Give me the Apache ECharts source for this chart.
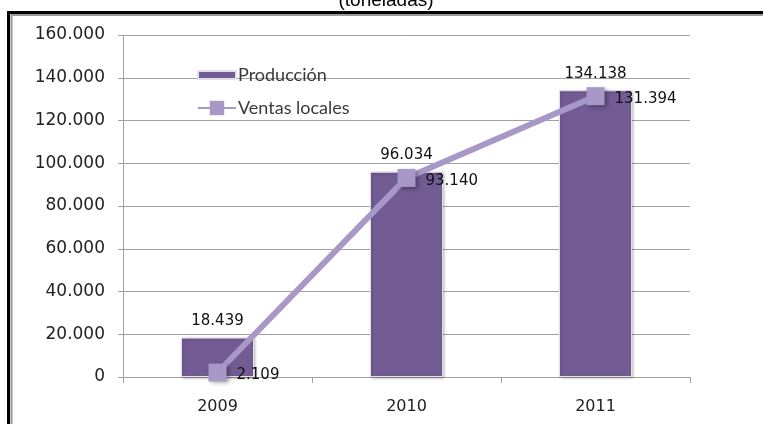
<!DOCTYPE html>
<html>
<head>
<meta charset="utf-8">
<script src="https://cdn.jsdelivr.net/npm/echarts@6/dist/echarts.min.js"></script>
<style>html,body{margin:0;padding:0;background:#fff;}#c{width:763px;height:424px;}</style>
</head>
<body>
<div id="c"></div>
<script>
const categories = ['2009', '2010', '2011'];
const produccion = [18439, 96034, 134138];
const ventasLocales = [2109, 93140, 131394];
const yTicks = { min: 0, max: 160000, interval: 20000 };

function fmt(v) {
  return String(Math.round(v)).replace(/\B(?=(\d{3})+(?!\d))/g, '.');
}

const chart = echarts.init(document.getElementById('c'), null, { renderer: 'canvas' });
const axisGray = '#a0a0a0';
chart.setOption({
  animation: false,
  backgroundColor: '#ffffff',
  grid: { left: 123, right: 73, top: 35, bottom: 47 },
  graphic: [
    { type: 'text', style: { text: '(toneladas)', x: 386, y: 10, textAlign: 'center', textVerticalAlign: 'bottom', font: '19px "Liberation Sans", Arial, sans-serif', fill: '#000' }, z: 10 },
    { type: 'polyline', shape: { points: [[8.5, 430], [8.5, 12.5], [770, 12.5]] }, style: { stroke: '#000', lineWidth: 3, fill: null }, z: 10 },
    { type: 'polyline', shape: { points: [[11.5, 430], [11.5, 15], [770, 15]] }, style: { stroke: '#9a9a9a', lineWidth: 2, fill: null }, z: 10 }
  ],
  legend: [
    {
      data: ['Producción'], orient: 'vertical', left: 192, top: 61,
      itemWidth: 38, itemHeight: 8, icon: 'rect',
      textStyle: { fontFamily: 'Lato, "Open Sans", sans-serif', fontSize: 18, color: '#3a3a3a', padding: [0, 0, 0, -3] }
    },
    {
      data: ['Ventas locales'], orient: 'vertical', left: 192, top: 94,
      itemWidth: 38, itemHeight: 18,
      textStyle: { fontFamily: 'Lato, "Open Sans", sans-serif', fontSize: 18, color: '#3a3a3a', padding: [0, 0, 0, -3] }
    }
  ],
  xAxis: {
    type: 'category', data: categories,
    axisLine: { show: true, lineStyle: { color: axisGray, width: 1 } },
    axisTick: { show: true, length: 6, lineStyle: { color: axisGray } },
    axisLabel: { fontFamily: '"DejaVu Sans", Verdana, sans-serif', fontSize: 16, color: '#222', margin: 22 },
    splitLine: { show: false }
  },
  yAxis: {
    type: 'value', min: yTicks.min, max: yTicks.max, interval: yTicks.interval,
    axisLine: { show: true, lineStyle: { color: axisGray, width: 1 } },
    axisTick: { show: true, length: 5, lineStyle: { color: axisGray } },
    axisLabel: { formatter: fmt, fontFamily: '"DejaVu Sans", Verdana, sans-serif', fontSize: 17, color: '#222', margin: 18 },
    splitLine: { show: true, lineStyle: { color: axisGray, width: 1 } }
  },
  series: [
    {
      name: 'Producción', type: 'bar', data: produccion, barWidth: 73,
      itemStyle: { color: '#735b94', borderColor: '#e4e0ea', borderWidth: 1, shadowColor: 'rgba(0,0,0,0.25)', shadowBlur: 3, shadowOffsetX: 1, shadowOffsetY: 1 },
      label: { show: true, position: 'top', distance: 9, formatter: p => fmt(p.value), fontFamily: '"DejaVu Sans", sans-serif', fontSize: 15, color: '#111' },
      z: 2
    },
    {
      name: 'Ventas locales', type: 'line', data: ventasLocales,
      symbol: 'rect', symbolSize: 18,
      lineStyle: { color: '#a898c8', width: 6 },
      itemStyle: { color: '#a898c8', shadowColor: 'rgba(0,0,0,0.3)', shadowBlur: 4, shadowOffsetX: 2, shadowOffsetY: 2 },
      label: { show: true, position: 'right', distance: 10, offset: [0, 3], formatter: p => fmt(p.value), fontFamily: '"DejaVu Sans", sans-serif', fontSize: 15, color: '#111' },
      z: 3
    }
  ]
});
</script>
</body>
</html>
